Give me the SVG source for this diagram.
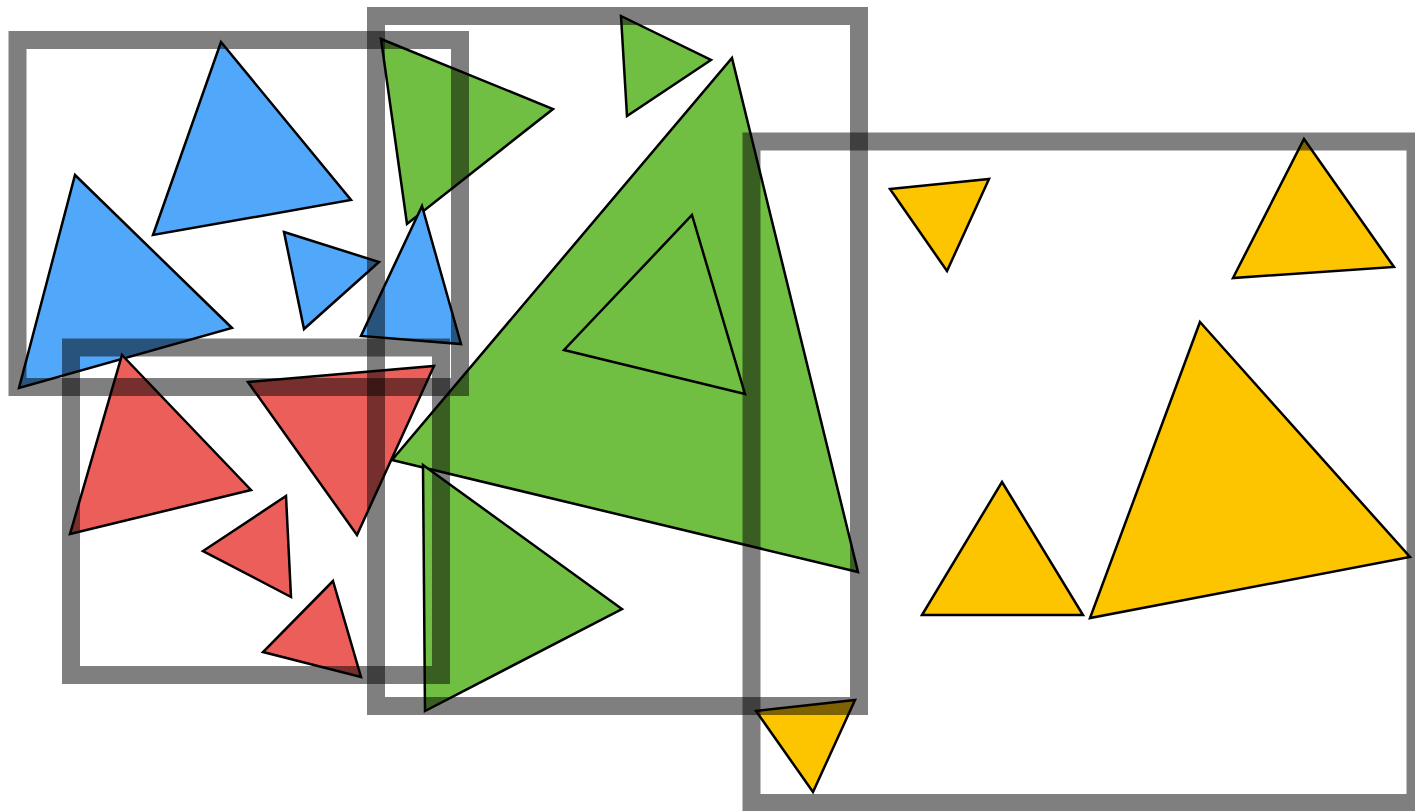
<svg xmlns="http://www.w3.org/2000/svg" width="1415" height="811" viewBox="0 0 1415 811">
  <style>
    .tri { stroke: #000; stroke-width: 2.5; stroke-linejoin: miter; }
    .blue { fill: #51a7f9; }
    .red { fill: #ec5e59; }
    .green { fill: #70bf43; }
    .yellow { fill: #fdc400; }
    .box { fill: none; stroke: #000; stroke-opacity: 0.5; stroke-width: 18; }
  </style>
  <rect width="1415" height="811" fill="#fff"/>
  <g id="green-triangles">
    <polygon class="tri green" points="381,39 553,109 407,224"/>
    <polygon class="tri green" points="621,16 711,60 627,116"/>
    <polygon class="tri green" points="732,58 858,572 392,460"/>
    <polygon class="tri green" points="692,215 745,394 564,350"/>
    <polygon class="tri green" points="423,465 622,609 425,711"/>
  </g>
  <g id="blue-triangles">
    <polygon class="tri blue" points="75,175 232,328 19,388"/>
    <polygon class="tri blue" points="221,42 351,200 153,235"/>
    <polygon class="tri blue" points="284,232 379,262 304,329"/>
    <polygon class="tri blue" points="422,206 461,344 361,336"/>
  </g>
  <g id="red-triangles">
    <polygon class="tri red" points="122,355 251,490 70,534"/>
    <polygon class="tri red" points="248,382 434,366 357,535"/>
    <polygon class="tri red" points="286,496 291,597 203,551"/>
    <polygon class="tri red" points="333,581 361,677 263,652"/>
  </g>
  <g id="yellow-triangles">
    <polygon class="tri yellow" points="890,189 989,179 947,271"/>
    <polygon class="tri yellow" points="1304,139 1394,267 1233,278"/>
    <polygon class="tri yellow" points="1200,322 1410,557 1090,618"/>
    <polygon class="tri yellow" points="1002,482 1083,615 922,615"/>
    <polygon class="tri yellow" points="756,711 855,700 813,792"/>
  </g>
  <g id="boxes">
    <rect id="box-blue" class="box" x="17.5" y="40" width="442.5" height="347"/>
    <rect id="box-red" class="box" x="71" y="347.5" width="370" height="327.5"/>
    <rect id="box-green" class="box" x="376" y="16" width="483" height="690"/>
    <rect id="box-yellow" class="box" x="751.5" y="141.5" width="664" height="661.5"/>
  </g>
</svg>
